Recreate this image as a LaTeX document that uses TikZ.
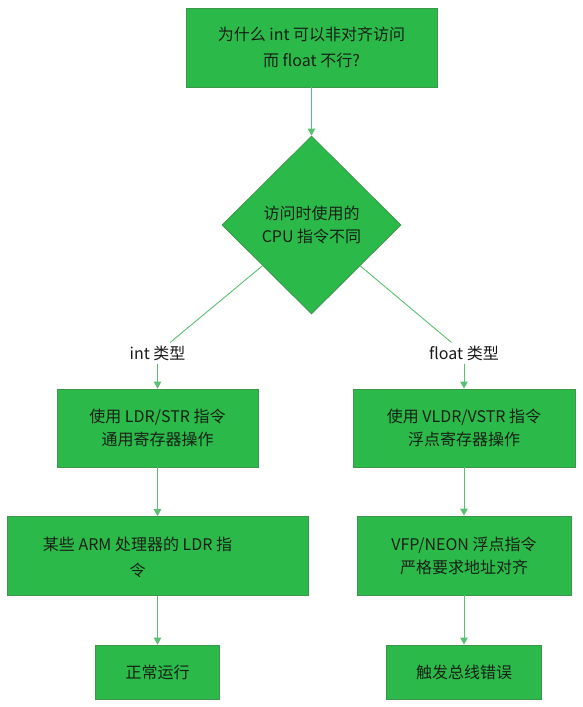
\documentclass[tikz,border=0pt]{standalone}
\usepackage{fontspec}
\setmainfont{Noto Sans CJK SC}
\usetikzlibrary{arrows.meta,shapes.geometric}
\definecolor{boxgreen}{RGB}{43,185,74}
\definecolor{rimgreen}{RGB}{60,150,75}
\definecolor{wiregreen}{RGB}{88,192,114}
\definecolor{inkgreen}{RGB}{22,32,22}
\tikzset{
	flowbox/.style={rectangle, draw=rimgreen, line width=0.8pt, fill=boxgreen, text=inkgreen, align=center, inner sep=0pt},
	choicebox/.style={diamond, draw=rimgreen, line width=0.8pt, fill=boxgreen, text=inkgreen, align=center, inner sep=0pt, minimum width=179pt, minimum height=178pt},
	branchtxt/.style={text=black!90, inner sep=3pt},
	wire/.style={draw=wiregreen, line width=0.9pt},
	flowarrow/.style={wire, -{Triangle[length=7pt,width=7.5pt]}}
}

\begin{document}
\begin{tikzpicture}[x=1pt, y=-1pt, font=\fontsize{16}{23}\selectfont]
			%%%%% START %%%%%
			
			\useasboundingbox (0, 0) rectangle (583, 707);
			
			\node[flowbox, minimum width=251pt, minimum height=79pt] (why) at (311.5, 47.5) {为什么 int 可以非对齐访问\\[3pt]而 float 不行?};
			\node[choicebox] (cpu) at (311.5, 225) {访问时使用的\\CPU 指令不同};
			
			\node[branchtxt] (tint) at (157.5, 353) {int 类型};
			\node[branchtxt] (tflt) at (464, 353) {float 类型};
			
			\node[flowbox, minimum width=201pt, minimum height=78pt] (ldr) at (157.5, 428) {使用 LDR/STR 指令\\通用寄存器操作};
			\node[flowbox, minimum width=222pt, minimum height=78pt] (vldr) at (464, 428) {使用 VLDR/VSTR 指令\\浮点寄存器操作};
			
			\node[flowbox, minimum width=301pt, minimum height=79pt] (arm) at (157.5, 556) {};
			\node[text=inkgreen, align=center, inner sep=0pt] (armtxt) at (137.5, 557) {某些 ARM 处理器的 LDR 指\\[3pt]令};
			\node[flowbox, minimum width=214pt, minimum height=79pt] (vfp) at (464, 555.5) {VFP/NEON 浮点指令\\严格要求地址对齐};
			
			\node[flowbox, minimum width=124pt, minimum height=54pt] (ok) at (157.5, 672) {正常运行};
			\node[flowbox, minimum width=155pt, minimum height=54pt] (fault) at (464, 672) {触发总线错误};
			
			\draw[flowarrow] (why) -- (cpu);
			\draw[wire] (cpu) -- (tint);
			\draw[wire] (cpu) -- (tflt);
			\draw[flowarrow] (tint) -- (ldr);
			\draw[flowarrow] (tflt) -- (vldr);
			\draw[flowarrow] (ldr) -- (arm);
			\draw[flowarrow] (vldr) -- (vfp);
			\draw[flowarrow] (arm) -- (ok);
			\draw[flowarrow] (vfp) -- (fault);
			
			%%%%% END %%%%%
		\end{tikzpicture}
\end{document}
